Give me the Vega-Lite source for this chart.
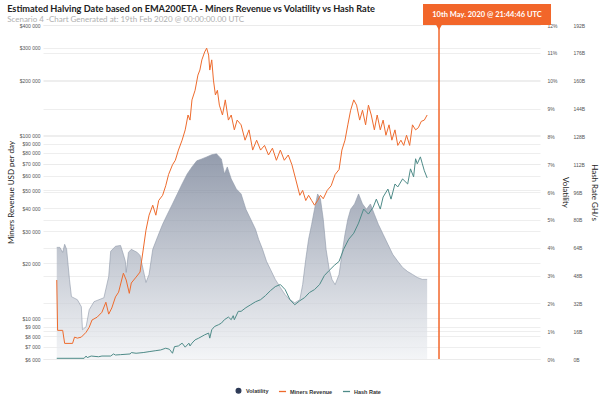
{
  "$schema": "https://vega.github.io/schema/vega-lite/v6.json",
  "width": 497,
  "height": 334,
  "autosize": "none",
  "padding": {"left": 43, "top": 25, "right": 60, "bottom": 35},
  "background": "white",
  "config": {
    "view": {"stroke": null},
    "font": "Lato",
    "axis": {"labelFont": "Liberation Sans", "titleFont": "Lato"}
  },
  "title": {
    "text": "Estimated Halving Date based on EMA200ETA - Miners Revenue vs Volatility vs Hash Rate",
    "subtitle": "Scenario 4 -Chart Generated at: 19th Feb 2020 @ 00:00:00.00 UTC",
    "anchor": "start",
    "frame": "bounds",
    "font": "Lato",
    "fontSize": 9.2,
    "fontWeight": "bold",
    "color": "#222222",
    "subtitleFont": "Lato",
    "subtitleFontSize": 8,
    "subtitleColor": "#b0b0b0",
    "subtitlePadding": 2,
    "offset": -20
  },
  "datasets": {
    "revenue": [
      {"date": "2016-08-25", "rev": 16200}, {"date": "2016-08-28", "rev": 8600}, {"date": "2016-09-15", "rev": 8600},
      {"date": "2016-09-22", "rev": 7300}, {"date": "2016-10-20", "rev": 7300}, {"date": "2016-10-27", "rev": 7900},
      {"date": "2016-11-06", "rev": 7800}, {"date": "2016-11-20", "rev": 7900}, {"date": "2016-12-07", "rev": 8400},
      {"date": "2016-12-18", "rev": 8950}, {"date": "2016-12-28", "rev": 9800}, {"date": "2017-01-15", "rev": 10150},
      {"date": "2017-02-01", "rev": 10800}, {"date": "2017-02-15", "rev": 12250}, {"date": "2017-02-25", "rev": 10550},
      {"date": "2017-03-08", "rev": 11400}, {"date": "2017-03-21", "rev": 13100}, {"date": "2017-04-01", "rev": 13900},
      {"date": "2017-04-18", "rev": 17650}, {"date": "2017-04-28", "rev": 16200}, {"date": "2017-05-09", "rev": 13700},
      {"date": "2017-05-16", "rev": 15600}, {"date": "2017-06-02", "rev": 16800}, {"date": "2017-06-16", "rev": 17900},
      {"date": "2017-06-27", "rev": 23600}, {"date": "2017-07-07", "rev": 30300}, {"date": "2017-07-18", "rev": 36600},
      {"date": "2017-07-31", "rev": 41500}, {"date": "2017-08-11", "rev": 36600}, {"date": "2017-08-21", "rev": 44000},
      {"date": "2017-09-04", "rev": 47000}, {"date": "2017-09-15", "rev": 53000}, {"date": "2017-09-25", "rev": 61000},
      {"date": "2017-10-09", "rev": 69000}, {"date": "2017-10-19", "rev": 73000}, {"date": "2017-10-30", "rev": 83000},
      {"date": "2017-11-12", "rev": 94000}, {"date": "2017-11-23", "rev": 107000}, {"date": "2017-12-03", "rev": 129000},
      {"date": "2017-12-10", "rev": 121000}, {"date": "2017-12-17", "rev": 156000}, {"date": "2017-12-28", "rev": 176000},
      {"date": "2018-01-07", "rev": 213000}, {"date": "2018-01-14", "rev": 227000}, {"date": "2018-01-21", "rev": 258000},
      {"date": "2018-01-31", "rev": 285000}, {"date": "2018-02-07", "rev": 299000}, {"date": "2018-02-14", "rev": 274000},
      {"date": "2018-02-18", "rev": 227000}, {"date": "2018-02-25", "rev": 258000}, {"date": "2018-03-03", "rev": 200000},
      {"date": "2018-03-10", "rev": 166000}, {"date": "2018-03-17", "rev": 176000}, {"date": "2018-03-24", "rev": 146000},
      {"date": "2018-04-04", "rev": 129000}, {"date": "2018-04-14", "rev": 156000}, {"date": "2018-04-25", "rev": 121000},
      {"date": "2018-05-05", "rev": 129000}, {"date": "2018-05-16", "rev": 107000}, {"date": "2018-05-26", "rev": 121000},
      {"date": "2018-06-09", "rev": 114000}, {"date": "2018-06-23", "rev": 94000}, {"date": "2018-07-07", "rev": 107000},
      {"date": "2018-07-20", "rev": 83000}, {"date": "2018-08-03", "rev": 94000}, {"date": "2018-08-17", "rev": 83000},
      {"date": "2018-08-31", "rev": 88000}, {"date": "2018-09-14", "rev": 78000}, {"date": "2018-09-28", "rev": 85000},
      {"date": "2018-10-12", "rev": 73000}, {"date": "2018-10-26", "rev": 83000}, {"date": "2018-11-09", "rev": 73000},
      {"date": "2018-11-23", "rev": 78000}, {"date": "2018-12-06", "rev": 69000}, {"date": "2018-12-20", "rev": 57000},
      {"date": "2019-01-03", "rev": 47000}, {"date": "2019-01-13", "rev": 50000}, {"date": "2019-01-24", "rev": 44000},
      {"date": "2019-02-03", "rev": 47000}, {"date": "2019-02-14", "rev": 44000}, {"date": "2019-02-24", "rev": 41500},
      {"date": "2019-03-07", "rev": 44000}, {"date": "2019-03-17", "rev": 47000}, {"date": "2019-03-27", "rev": 45000},
      {"date": "2019-04-10", "rev": 50000}, {"date": "2019-04-24", "rev": 53000}, {"date": "2019-05-08", "rev": 61000},
      {"date": "2019-05-22", "rev": 65000}, {"date": "2019-06-01", "rev": 83000}, {"date": "2019-06-12", "rev": 94000},
      {"date": "2019-06-22", "rev": 114000}, {"date": "2019-07-02", "rev": 137000}, {"date": "2019-07-13", "rev": 156000},
      {"date": "2019-07-23", "rev": 146000}, {"date": "2019-08-03", "rev": 121000}, {"date": "2019-08-13", "rev": 137000},
      {"date": "2019-08-24", "rev": 114000}, {"date": "2019-09-03", "rev": 146000}, {"date": "2019-09-13", "rev": 129000},
      {"date": "2019-09-24", "rev": 107000}, {"date": "2019-10-04", "rev": 129000}, {"date": "2019-10-15", "rev": 107000},
      {"date": "2019-10-25", "rev": 121000}, {"date": "2019-11-04", "rev": 100000}, {"date": "2019-11-15", "rev": 114000},
      {"date": "2019-11-25", "rev": 94000}, {"date": "2019-12-06", "rev": 107000}, {"date": "2019-12-16", "rev": 88000},
      {"date": "2019-12-27", "rev": 94000}, {"date": "2020-01-06", "rev": 88000}, {"date": "2020-01-16", "rev": 100000},
      {"date": "2020-01-27", "rev": 88000}, {"date": "2020-02-06", "rev": 114000}, {"date": "2020-02-17", "rev": 107000},
      {"date": "2020-02-27", "rev": 110000}, {"date": "2020-03-08", "rev": 119000}, {"date": "2020-03-19", "rev": 121000},
      {"date": "2020-03-29", "rev": 129000}
    ],
    "volatility": [
      {"date": "2016-08-25", "vol": 4.01}, {"date": "2016-09-05", "vol": 4.01}, {"date": "2016-09-15", "vol": 3.83},
      {"date": "2016-09-22", "vol": 4.12}, {"date": "2016-09-29", "vol": 3.94}, {"date": "2016-10-09", "vol": 2.86},
      {"date": "2016-10-16", "vol": 2.24}, {"date": "2016-11-06", "vol": 2.13}, {"date": "2016-11-20", "vol": 1.88},
      {"date": "2016-11-24", "vol": 1.05}, {"date": "2016-12-07", "vol": 1.16}, {"date": "2016-12-18", "vol": 1.77},
      {"date": "2017-01-04", "vol": 2.06}, {"date": "2017-02-08", "vol": 2.2}, {"date": "2017-02-25", "vol": 2.96},
      {"date": "2017-03-04", "vol": 3.87}, {"date": "2017-03-21", "vol": 4.05}, {"date": "2017-04-08", "vol": 4.08},
      {"date": "2017-04-18", "vol": 3.76}, {"date": "2017-04-25", "vol": 3.51}, {"date": "2017-04-28", "vol": 3.11},
      {"date": "2017-05-06", "vol": 3.83}, {"date": "2017-05-16", "vol": 3.94}, {"date": "2017-06-06", "vol": 3.83},
      {"date": "2017-06-16", "vol": 3.72}, {"date": "2017-06-27", "vol": 3.22}, {"date": "2017-07-07", "vol": 2.75},
      {"date": "2017-07-18", "vol": 3.04}, {"date": "2017-07-31", "vol": 3.94}, {"date": "2017-08-18", "vol": 4.41},
      {"date": "2017-09-04", "vol": 4.84}, {"date": "2017-09-21", "vol": 5.2}, {"date": "2017-10-09", "vol": 5.57},
      {"date": "2017-10-26", "vol": 5.93}, {"date": "2017-11-12", "vol": 6.29}, {"date": "2017-11-30", "vol": 6.65},
      {"date": "2017-12-17", "vol": 6.9}, {"date": "2018-01-03", "vol": 7.12}, {"date": "2018-01-21", "vol": 7.19},
      {"date": "2018-02-07", "vol": 7.26}, {"date": "2018-02-25", "vol": 7.34}, {"date": "2018-03-14", "vol": 7.37},
      {"date": "2018-03-24", "vol": 7.26}, {"date": "2018-03-31", "vol": 7.19}, {"date": "2018-04-11", "vol": 6.65},
      {"date": "2018-04-21", "vol": 6.9}, {"date": "2018-05-05", "vol": 6.47}, {"date": "2018-05-23", "vol": 6.11},
      {"date": "2018-06-09", "vol": 5.93}, {"date": "2018-06-26", "vol": 5.38}, {"date": "2018-07-13", "vol": 5.02},
      {"date": "2018-07-30", "vol": 4.66}, {"date": "2018-08-10", "vol": 4.3}, {"date": "2018-08-24", "vol": 3.94},
      {"date": "2018-09-07", "vol": 3.51}, {"date": "2018-09-21", "vol": 3.22}, {"date": "2018-10-08", "vol": 2.86},
      {"date": "2018-10-26", "vol": 2.57}, {"date": "2018-11-12", "vol": 2.31}, {"date": "2018-11-29", "vol": 2.13},
      {"date": "2018-12-16", "vol": 2.02}, {"date": "2019-01-03", "vol": 2.13}, {"date": "2019-01-13", "vol": 2.67},
      {"date": "2019-01-24", "vol": 3.58}, {"date": "2019-02-03", "vol": 4.3}, {"date": "2019-02-14", "vol": 4.84},
      {"date": "2019-02-24", "vol": 5.38}, {"date": "2019-03-07", "vol": 5.93}, {"date": "2019-03-17", "vol": 5.75},
      {"date": "2019-03-27", "vol": 5.02}, {"date": "2019-04-06", "vol": 3.94}, {"date": "2019-04-17", "vol": 3.22},
      {"date": "2019-04-27", "vol": 2.86}, {"date": "2019-05-08", "vol": 2.67}, {"date": "2019-05-22", "vol": 3.04},
      {"date": "2019-06-01", "vol": 3.76}, {"date": "2019-06-12", "vol": 4.48}, {"date": "2019-06-22", "vol": 5.02},
      {"date": "2019-07-02", "vol": 5.38}, {"date": "2019-07-16", "vol": 5.57}, {"date": "2019-07-30", "vol": 5.93},
      {"date": "2019-08-13", "vol": 5.57}, {"date": "2019-08-27", "vol": 5.38}, {"date": "2019-09-10", "vol": 5.57},
      {"date": "2019-09-24", "vol": 5.2}, {"date": "2019-10-08", "vol": 4.84}, {"date": "2019-10-25", "vol": 4.48},
      {"date": "2019-11-11", "vol": 4.12}, {"date": "2019-11-28", "vol": 3.76}, {"date": "2019-12-16", "vol": 3.51},
      {"date": "2020-01-02", "vol": 3.29}, {"date": "2020-01-20", "vol": 3.14}, {"date": "2020-02-06", "vol": 3.04},
      {"date": "2020-02-23", "vol": 2.93}, {"date": "2020-03-12", "vol": 2.86}, {"date": "2020-03-29", "vol": 2.86}
    ],
    "hashrate": [
      {"date": "2016-08-25", "hash": 0.4}, {"date": "2016-11-30", "hash": 0.4}, {"date": "2016-12-07", "hash": 1.7},
      {"date": "2016-12-11", "hash": 0.8}, {"date": "2016-12-25", "hash": 1.7}, {"date": "2017-01-20", "hash": 1.3},
      {"date": "2017-02-01", "hash": 1.7}, {"date": "2017-03-04", "hash": 1.7}, {"date": "2017-03-14", "hash": 2.9},
      {"date": "2017-03-21", "hash": 2.3}, {"date": "2017-04-08", "hash": 2.5}, {"date": "2017-05-12", "hash": 2.9},
      {"date": "2017-05-16", "hash": 3.7}, {"date": "2017-06-02", "hash": 3.3}, {"date": "2017-06-27", "hash": 3.7},
      {"date": "2017-07-21", "hash": 4.3}, {"date": "2017-08-11", "hash": 4.8}, {"date": "2017-08-28", "hash": 5.2},
      {"date": "2017-09-15", "hash": 6.2}, {"date": "2017-09-28", "hash": 5.6}, {"date": "2017-10-09", "hash": 3.3},
      {"date": "2017-10-16", "hash": 7.1}, {"date": "2017-10-30", "hash": 7.5}, {"date": "2017-11-12", "hash": 9.1},
      {"date": "2017-11-23", "hash": 6.8}, {"date": "2017-12-06", "hash": 9.1}, {"date": "2017-12-10", "hash": 7.5},
      {"date": "2017-12-17", "hash": 9.1}, {"date": "2017-12-28", "hash": 11.0}, {"date": "2018-01-10", "hash": 12.0},
      {"date": "2018-01-31", "hash": 13.9}, {"date": "2018-02-14", "hash": 14.9}, {"date": "2018-02-18", "hash": 12.0},
      {"date": "2018-02-25", "hash": 16.8}, {"date": "2018-03-07", "hash": 18.7}, {"date": "2018-03-21", "hash": 19.7},
      {"date": "2018-03-31", "hash": 20.6}, {"date": "2018-04-11", "hash": 22.6}, {"date": "2018-04-25", "hash": 24.1},
      {"date": "2018-05-05", "hash": 22.6}, {"date": "2018-05-12", "hash": 24.9}, {"date": "2018-05-16", "hash": 22.6},
      {"date": "2018-05-30", "hash": 27.4}, {"date": "2018-06-09", "hash": 27.4}, {"date": "2018-06-26", "hash": 29.5},
      {"date": "2018-07-13", "hash": 31.2}, {"date": "2018-07-30", "hash": 32.9}, {"date": "2018-08-17", "hash": 34.1},
      {"date": "2018-09-03", "hash": 36.4}, {"date": "2018-09-21", "hash": 39.3}, {"date": "2018-10-08", "hash": 41.6},
      {"date": "2018-10-26", "hash": 42.8}, {"date": "2018-11-12", "hash": 39.9}, {"date": "2018-11-29", "hash": 34.1},
      {"date": "2018-12-16", "hash": 31.2}, {"date": "2019-01-03", "hash": 33.5}, {"date": "2019-01-20", "hash": 35.3},
      {"date": "2019-02-06", "hash": 38.2}, {"date": "2019-02-24", "hash": 39.9}, {"date": "2019-03-14", "hash": 42.8},
      {"date": "2019-03-31", "hash": 48.0}, {"date": "2019-04-17", "hash": 50.9}, {"date": "2019-05-05", "hash": 53.8},
      {"date": "2019-05-22", "hash": 56.1}, {"date": "2019-06-07", "hash": 63.0}, {"date": "2019-06-25", "hash": 68.8},
      {"date": "2019-07-13", "hash": 72.3}, {"date": "2019-07-30", "hash": 78.1}, {"date": "2019-08-17", "hash": 86.2},
      {"date": "2019-09-03", "hash": 83.3}, {"date": "2019-09-20", "hash": 87.3}, {"date": "2019-10-01", "hash": 91.9},
      {"date": "2019-10-15", "hash": 86.2}, {"date": "2019-10-25", "hash": 93.1}, {"date": "2019-11-11", "hash": 97.7},
      {"date": "2019-11-22", "hash": 91.9}, {"date": "2019-12-06", "hash": 100.6}, {"date": "2019-12-16", "hash": 98.9},
      {"date": "2020-01-02", "hash": 103.5}, {"date": "2020-01-20", "hash": 100.6}, {"date": "2020-01-30", "hash": 109.3},
      {"date": "2020-02-10", "hash": 104.7}, {"date": "2020-02-17", "hash": 115.1}, {"date": "2020-02-23", "hash": 112.2},
      {"date": "2020-03-05", "hash": 116.2}, {"date": "2020-03-12", "hash": 112.2}, {"date": "2020-03-19", "hash": 108.2},
      {"date": "2020-03-29", "hash": 104.1}
    ],
    "event": [
      {"date": "2020-05-10", "label": "10th May. 2020 @ 21:44:46 UTC"}
    ]
  },
  "layer": [
    {
      "data": {"name": "volatility"},
      "mark": {
        "type": "area",
        "fill": {
          "gradient": "linear", "x1": 0, "y1": 0, "x2": 0, "y2": 1,
          "stops": [{"offset": 0, "color": "#66728a"}, {"offset": 1, "color": "#eff1f4"}]
        },
        "line": {"color": "#8d97a8", "strokeWidth": 0.6}
      },
      "encoding": {
        "x": {
          "field": "date", "type": "temporal",
          "scale": {"type": "utc", "nice": false, "domain": [{"year": 2016, "month": 7, "date": 25, "utc": true}, {"year": 2021, "month": 4, "date": 15, "utc": true}]},
          "axis": {
            "format": "%b %y", "labelAngle": -45, "tickCount": {"interval": "month", "step": 1},
            "labelFontSize": 5, "labelOverlap": false, "labelFlush": false, "grid": false, "domain": false, "ticks": false,
            "title": null, "labelColor": "#555555", "labelPadding": 3
          }
        },
        "y": {
          "field": "vol", "type": "quantitative",
          "scale": {"domain": [0, 12], "nice": false},
          "axis": {
            "orient": "right", "values": [0,1,2,3,4,5,6,7,8,9,10,11,12], "labelExpr": "datum.value + '%'",
            "labelFontSize": 5, "labelColor": "#555555", "domain": false, "ticks": false, "labelPadding": 7,
            "grid": true, "gridColor": "#eaeaea", "gridWidth": 0.8,
            "title": "Volatility", "titleFontSize": 8, "titleFontWeight": "normal", "titleColor": "#222222", "titlePadding": 3
          }
        }
      }
    },
    {
      "data": {"name": "revenue"},
      "mark": {"type": "line", "strokeWidth": 1},
      "encoding": {
        "x": {"field": "date", "type": "temporal", "axis": null},
        "y": {
          "field": "rev", "type": "quantitative",
          "scale": {"type": "log", "domain": [6000, 400000], "nice": false},
          "axis": {
            "orient": "left",
            "values": [6000,7000,8000,9000,10000,20000,30000,40000,50000,60000,70000,80000,90000,100000,200000,300000,400000],
            "labelExpr": "'$' + replace(format(datum.value, ','), regexp(',', 'g'), ' ')",
            "labelFontSize": 5, "labelColor": "#555555", "domain": false, "ticks": false, "labelPadding": 3,
            "grid": true, "gridColor": "#eaeaea", "gridWidth": 0.8,
            "title": "Miners Revenue USD per day", "titleFontSize": 8, "titleFontWeight": "normal", "titleColor": "#222222", "titlePadding": 4
          }
        },
        "color": {
          "datum": "Miners Revenue", "type": "nominal",
          "scale": {"domain": ["Volatility", "Miners Revenue", "Hash Rate"], "range": ["#2d3a56", "#ee6b2d", "#4e8b88"]},
          "legend": {
            "title": null, "orient": "none", "legendX": 191, "legendY": 361, "direction": "horizontal",
            "labelFont": "Liberation Sans", "labelFontSize": 5.5, "labelFontWeight": "bold", "labelColor": "#333333",
            "symbolStrokeWidth": 1.3, "columnPadding": 7, "labelOffset": 3,
            "encode": {
              "symbols": {
                "update": {
                  "shape": {"signal": "datum.value === 'Volatility' ? 'circle' : 'stroke'"},
                  "fill": {"signal": "datum.value === 'Volatility' ? '#2d3a56' : 'transparent'"},
                  "size": {"signal": "datum.value === 'Volatility' ? 22 : 50"}
                }
              }
            }
          }
        }
      }
    },
    {
      "data": {"name": "hashrate"},
      "mark": {"type": "line", "strokeWidth": 1},
      "encoding": {
        "x": {"field": "date", "type": "temporal", "axis": null},
        "y": {
          "field": "hash", "type": "quantitative",
          "scale": {"domain": [0, 192], "nice": false},
          "axis": {
            "orient": "right", "offset": 31, "values": [0,16,32,48,64,80,96,112,128,144,160,176,192], "labelExpr": "datum.value + 'B'",
            "labelFontSize": 5, "labelColor": "#555555", "domain": false, "ticks": false, "labelPadding": 2,
            "grid": false,
            "title": "Hash Rate GH/s", "titleFontSize": 8, "titleFontWeight": "normal", "titleColor": "#222222", "titlePadding": 5
          }
        },
        "color": {"datum": "Hash Rate", "type": "nominal"}
      }
    },
    {
      "data": {"name": "event"},
      "mark": {"type": "rule", "color": "#f2662a", "strokeWidth": 1.5},
      "encoding": {"x": {"field": "date", "type": "temporal", "axis": null}}
    },
    {
      "data": {"name": "event"},
      "mark": {"type": "bar", "color": "#f2662a", "width": 128, "xOffset": 48},
      "encoding": {
        "x": {"field": "date", "type": "temporal", "axis": null},
        "y": {"value": -21},
        "y2": {"value": 0}
      }
    },
    {
      "data": {"name": "event"},
      "mark": {"type": "point", "shape": "triangle-down", "filled": true, "color": "#f2662a", "size": 45, "opacity": 1},
      "encoding": {
        "x": {"field": "date", "type": "temporal", "axis": null},
        "y": {"value": 2}
      }
    },
    {
      "data": {"name": "event"},
      "mark": {"type": "text", "color": "white", "font": "Lato", "fontWeight": "bold", "fontSize": 7.5, "xOffset": 48, "align": "center", "baseline": "middle"},
      "encoding": {
        "x": {"field": "date", "type": "temporal", "axis": null},
        "y": {"value": -10},
        "text": {"field": "label"}
      }
    }
  ],
  "resolve": {"scale": {"y": "independent"}}
}
